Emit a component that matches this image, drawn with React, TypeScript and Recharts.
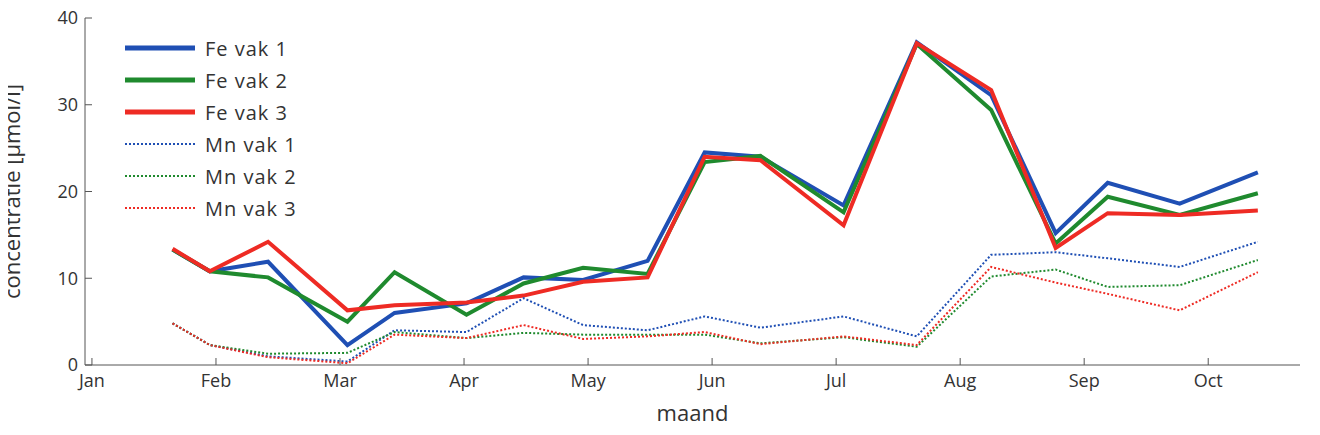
import { LineChart, Line, XAxis, YAxis } from 'recharts';

// month position (1 = Jan) of each sample
const months = [1.65, 1.95, 2.42, 3.06, 3.44, 4.02, 4.48, 4.96, 5.48, 5.94, 6.39, 7.06, 7.65, 8.25, 8.77, 9.19, 9.77, 10.4];
const feVak1 = [13.3, 10.8, 11.9, 2.3, 6.0, 7.1, 10.1, 9.8, 12.0, 24.5, 24.0, 18.4, 37.2, 31.1, 15.2, 21.0, 18.6, 22.2];
const feVak2 = [13.3, 10.8, 10.1, 5.0, 10.7, 5.8, 9.4, 11.2, 10.5, 23.4, 24.1, 17.6, 37.0, 29.4, 14.0, 19.4, 17.3, 19.8];
const feVak3 = [13.4, 10.8, 14.2, 6.3, 6.9, 7.2, 8.0, 9.6, 10.1, 24.0, 23.6, 16.1, 37.1, 31.7, 13.5, 17.5, 17.3, 17.8];
const mnVak1 = [4.8, 2.3, 1.0, 0.4, 4.0, 3.8, 7.7, 4.6, 4.0, 5.6, 4.3, 5.6, 3.3, 12.7, 13.0, 12.3, 11.3, 14.2];
const mnVak2 = [4.8, 2.3, 1.3, 1.4, 3.8, 3.1, 3.7, 3.5, 3.5, 3.5, 2.5, 3.2, 2.1, 10.2, 11.0, 9.0, 9.2, 12.1];
const mnVak3 = [4.8, 2.3, 0.9, 0.2, 3.5, 3.1, 4.6, 3.0, 3.3, 3.8, 2.4, 3.3, 2.3, 11.3, 9.5, 8.2, 6.3, 10.7];
const monthLabels = ['Jan', 'Feb', 'Mar', 'Apr', 'May', 'Jun', 'Jul', 'Aug', 'Sep', 'Oct'];
const yTicks = [0, 10, 20, 30, 40];

const BLUE = '#1f4fb4';
const GREEN = '#1f8a2e';
const RED = '#ee2b24';

const data = months.map((m, i) => ({
  m,
  fe1: feVak1[i], fe2: feVak2[i], fe3: feVak3[i],
  mn1: mnVak1[i], mn2: mnVak2[i], mn3: mnVak3[i],
}));

const series = [
  { key: 'fe1', name: 'Fe vak 1', color: BLUE, dotted: false },
  { key: 'fe2', name: 'Fe vak 2', color: GREEN, dotted: false },
  { key: 'fe3', name: 'Fe vak 3', color: RED, dotted: false },
  { key: 'mn1', name: 'Mn vak 1', color: BLUE, dotted: true },
  { key: 'mn2', name: 'Mn vak 2', color: GREEN, dotted: true },
  { key: 'mn3', name: 'Mn vak 3', color: RED, dotted: true },
];

const font = '"Open Sans", "DejaVu Sans", sans-serif';

const LegendBox = () => (
  <div style={{ position: 'absolute', left: 115, top: 28, background: '#fff', padding: '4px 10px', width: 190, fontFamily: font }}>
    {series.map((s) => (
      <div key={s.key} style={{ display: 'flex', alignItems: 'center', height: 32 }}>
        <svg width={70} height={10}>
          <line x1={0} y1={5} x2={70} y2={5} stroke={s.color}
            strokeWidth={s.dotted ? 2 : 5} strokeDasharray={s.dotted ? '2 2' : undefined} />
        </svg>
        <span style={{ marginLeft: 10, fontSize: 20, color: '#333', letterSpacing: 1 }}>{s.name}</span>
      </div>
    ))}
  </div>
);

const App = () => {
  const tickStyle = { fill: '#333', fontSize: 18, fontFamily: font };
  return (
    <div style={{ margin: -8, background: '#fff', width: 1320, height: 435, position: 'relative' }}>
      <LineChart width={1320} height={435} data={data}
        margin={{ top: 18, right: 20, bottom: 0, left: 0 }}>
        <XAxis xAxisId="b" dataKey="m" type="number" domain={[0.944, 10.74]}
          ticks={monthLabels.map((_, i) => i + 1)}
          tickFormatter={(v) => monthLabels[v - 1]} tick={tickStyle}
          stroke="#555" tickSize={-7} tickMargin={16} height={70}
          label={{ value: 'maand', position: 'insideBottom', offset: 14, fontSize: 22, fill: '#333', fontFamily: font }} />
        <XAxis xAxisId="t" dataKey="m" type="number" domain={[0.944, 10.74]} orientation="top"
          tick={false} stroke="#555" height={0} />
        <YAxis yAxisId="l" domain={[0, 40]} ticks={yTicks} tick={tickStyle} stroke="#555"
          tickSize={-7} tickMargin={14} width={85}
          label={{ value: 'concentratie [μmol/l]', angle: -90, position: 'insideLeft', offset: 12, style: { textAnchor: 'middle' }, fontSize: 22, fill: '#333', fontFamily: font }} />
        <YAxis yAxisId="r" domain={[0, 40]} orientation="right" tick={false} stroke="#555" width={0} />
        {series.map((s) => (
          <Line key={s.key} xAxisId="b" yAxisId="l" dataKey={s.key} name={s.name}
            stroke={s.color} strokeWidth={s.dotted ? 2 : 4}
            strokeDasharray={s.dotted ? '2 2' : undefined}
            dot={false} isAnimationActive={false} />
        ))}
      </LineChart>
      <LegendBox />
    </div>
  );
};

export default App;
